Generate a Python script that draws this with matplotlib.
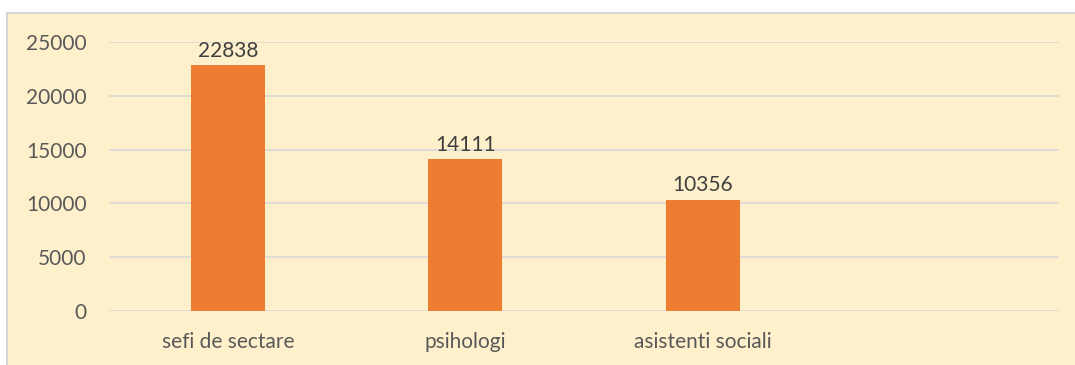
import matplotlib
matplotlib.use("Agg")
import matplotlib.pyplot as plt
from matplotlib.patches import Rectangle

categories = ["sefi de sectare", "psihologi", "asistenti sociali", ""]
values = [22838, 14111, 10356, None]
yticks = [0, 5000, 10000, 15000, 20000, 25000]

plt.rcParams["font.family"] = ["Lato", "DejaVu Sans"]

W, H = 1075, 365
fig = plt.figure(figsize=(W / 100, H / 100), dpi=100, facecolor="white")

# chart area panel with a thin grey frame
fig.patches.append(Rectangle((7 / W, -0.1), 1.2, (H - 13) / H + 0.1,
                             transform=fig.transFigure, facecolor="#FFF0CC",
                             edgecolor="#D6D6D6", linewidth=1.5, zorder=-10))

ax = fig.add_axes([109 / W, 54 / H, 950 / W, (311 - 42) / H])
ax.set_zorder(5)
ax.set_facecolor("none")

xs = list(range(len(categories)))
shown = [(x, v) for x, v in zip(xs, values) if v is not None]
bars = ax.bar([s[0] for s in shown], [s[1] for s in shown], width=0.31,
              color="#ED7D31", zorder=3)
for rect, (_, v) in zip(bars, shown):
    ax.annotate(f"{v}", (rect.get_x() + rect.get_width() / 2, v),
                xytext=(0, 3), textcoords="offset points",
                ha="center", va="bottom", fontsize=15, color="#404040")

ax.set_xlim(-0.5, len(categories) - 0.5)
ax.set_ylim(0, 25000)
ax.set_yticks(yticks)
ax.set_xticks(xs)
ax.set_xticklabels(categories)
ax.yaxis.grid(True, color="#D9D9D9", linewidth=1.2, zorder=0)
ax.set_axisbelow(True)
for s in ax.spines.values():
    s.set_visible(False)
ax.tick_params(axis="both", length=0, labelsize=15, labelcolor="#595959")
ax.tick_params(axis="y", pad=16)
ax.tick_params(axis="x", pad=15)

fig.savefig("out.png", dpi=100, facecolor=fig.get_facecolor())
